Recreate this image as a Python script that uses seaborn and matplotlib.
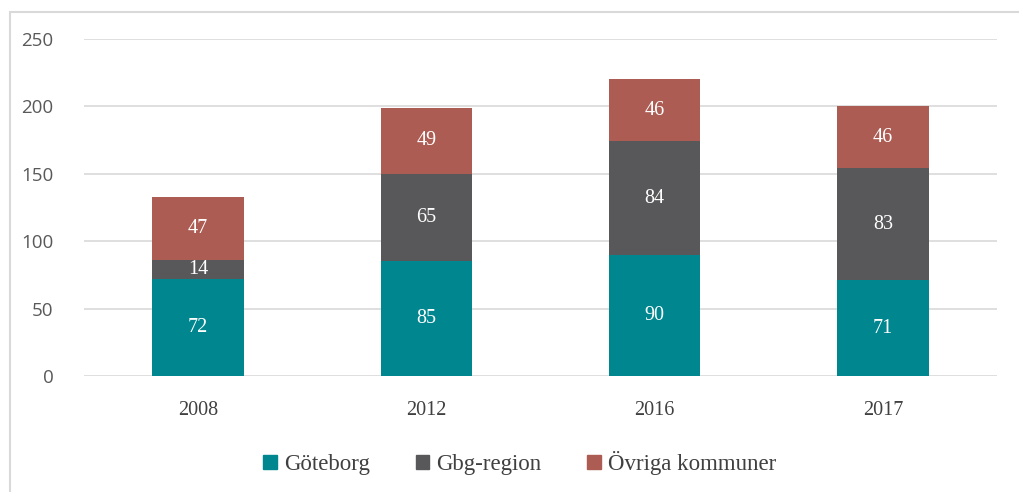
import numpy as np
import pandas as pd
import matplotlib
matplotlib.use("Agg")
import matplotlib.pyplot as plt
import matplotlib.patches as mpatches
import seaborn as sns

years = ["2008", "2012", "2016", "2017"]
goteborg = [72, 85, 90, 71]
gbg_region = [14, 65, 84, 83]
ovriga = [47, 49, 46, 46]
series_names = ["Göteborg", "Gbg-region", "Övriga kommuner"]
colors = ["#00868F", "#58585A", "#AD5C53"]

sns.set_style("white")
serif = ["Liberation Serif", "DejaVu Serif"]

fig = plt.figure(figsize=(10.19, 4.92), dpi=100)
ax = fig.add_axes([84 / 1019, 1 - 376 / 492, 913 / 1019, 337 / 492])

bottom = np.zeros(len(years))
for name, vals, col in zip(series_names, [goteborg, gbg_region, ovriga], colors):
    sns.barplot(x=years, y=vals, bottom=bottom, color=col, width=0.4,
                ax=ax, saturation=1, linewidth=0)
    for i, v in enumerate(vals):
        ax.text(i, bottom[i] + v / 2, str(v), ha="center", va="center",
                color="white", fontsize=14.5, family=serif)
    bottom = bottom + np.array(vals)

ax.set_ylim(0, 250)
ax.set_xlim(-0.5, 3.5)
ax.set_yticks(range(0, 251, 50))
ax.yaxis.grid(True, color="#D9D9D9", linewidth=1.2)
ax.set_axisbelow(True)
for s in ax.spines.values():
    s.set_visible(False)
ax.tick_params(axis="both", length=0)
ax.tick_params(axis="y", pad=22, labelsize=13.5, labelcolor="#595959")
ax.tick_params(axis="x", pad=18, labelsize=14.5, labelcolor="#404040")
for lab in ax.get_xticklabels():
    lab.set_family(serif)
for lab in ax.get_yticklabels():
    lab.set_family(["Open Sans", "DejaVu Sans"])
ax.set_xlabel("")
ax.set_ylabel("")

handles = [mpatches.Patch(color=c) for c in colors]
fig.legend(handles, series_names, loc="center", bbox_to_anchor=(0.51, 1 - 463 / 492),
           ncol=3, frameon=False, handlelength=0.6, handleheight=0.6,
           handletextpad=0.3, columnspacing=2.0,
           prop={"family": serif, "size": 16.5}, labelcolor="#404040")

# chart frame
fig.patches.append(mpatches.Rectangle((10 / 1019, -0.1), 1.2, 1 - 12 / 492 + 0.1,
                                      transform=fig.transFigure, fill=False,
                                      edgecolor="#D9D9D9", linewidth=1.5))

fig.savefig("out.png", dpi=100)
